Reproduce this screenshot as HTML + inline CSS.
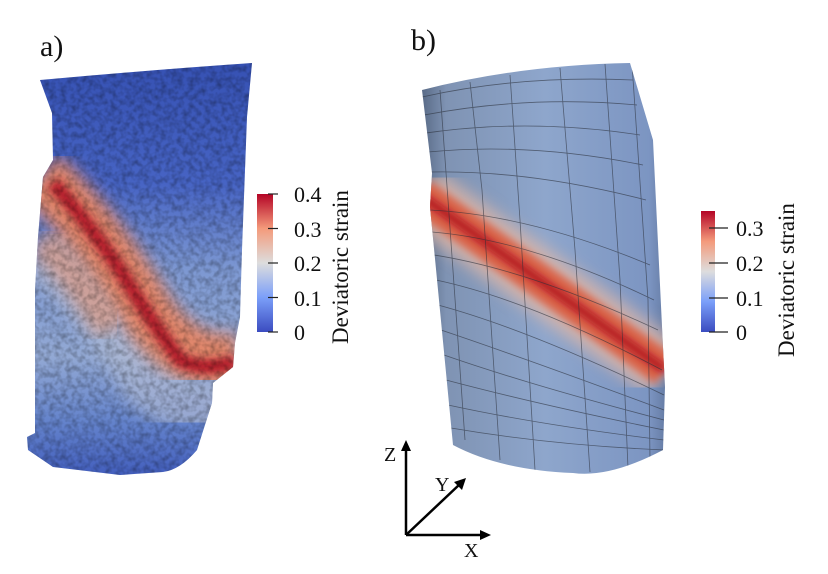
<!DOCTYPE html>
<html><head><meta charset="utf-8"><style>
html,body{margin:0;padding:0;background:#fff;}
svg{display:block;}
text{font-family:"Liberation Serif",serif;fill:#111;}
</style></head><body>
<svg width="828" height="574" viewBox="0 0 828 574" xmlns="http://www.w3.org/2000/svg">
<defs>
<linearGradient id="cm" x1="0" y1="1" x2="0" y2="0">
<stop offset="0" stop-color="#3b4cc0"/><stop offset="0.25" stop-color="#7b9ff9"/>
<stop offset="0.5" stop-color="#dddddd"/><stop offset="0.75" stop-color="#f49a7b"/>
<stop offset="1" stop-color="#b40426"/></linearGradient>
<linearGradient id="leftbg" x1="0" y1="0" x2="0" y2="1">
<stop offset="0" stop-color="#3550b2"/><stop offset="0.3" stop-color="#4764c4"/>
<stop offset="0.5" stop-color="#7d98d2"/><stop offset="0.7" stop-color="#93a9d4"/>
<stop offset="0.85" stop-color="#6584cc"/>
<stop offset="1" stop-color="#3d58bb"/></linearGradient>
<linearGradient id="cyl" x1="0" y1="0" x2="1" y2="0">
<stop offset="0" stop-color="#4e5f7a"/><stop offset="0.12" stop-color="#7f93b3"/>
<stop offset="0.5" stop-color="#8ea6cc"/><stop offset="0.9" stop-color="#7c95c2"/>
<stop offset="1" stop-color="#5a6f95"/></linearGradient>
<filter id="b8"><feGaussianBlur stdDeviation="8"/></filter>
<filter id="b4"><feGaussianBlur stdDeviation="4"/></filter>
<filter id="grain" x="0" y="0" width="100%" height="100%">
<feTurbulence type="fractalNoise" baseFrequency="0.18" numOctaves="2" seed="3"/>
<feColorMatrix values="0 0 0 0 0  0 0 0 0 0  0 0 0 0 0  0 0 0 1.4 -0.5"/>
</filter>
<clipPath id="lc"><path d="M40,80 Q150,70 252,63 L247,117 L242,250 L240,317 L235,343 L233,367 L213,383 L212,403 L197,450 Q180,470 163,472 L120,475 L53,467 L28,450 L27,437 L35,433 L35,290 L38,237 L43,177 L53,160 L52,113 Z"/></clipPath>
<clipPath id="rc"><path d="M422,90 Q520,65 630,63 L653,140 L663,347 L665,387 L663,450 Q610,478 573,473 Q500,470 453,445 L430,207 L432,173 Z"/></clipPath>
</defs>

<text x="40" y="56" font-size="30">a)</text>
<text x="411" y="50" font-size="30">b)</text>

<g clip-path="url(#lc)">
<rect x="20" y="55" width="240" height="430" fill="url(#leftbg)"/>
<path d="M40,250 Q110,300 150,380 Q190,420 240,400" stroke="#b7bfd4" stroke-width="60" fill="none" filter="url(#b8)" opacity="0.6"/>
<path d="M40,175 Q90,220 140,300 Q180,370 240,360" stroke="#e0866a" stroke-width="55" fill="none" filter="url(#b8)"/>
<path d="M40,240 Q80,280 110,330" stroke="#e09a80" stroke-width="30" fill="none" filter="url(#b8)" opacity="0.7"/>
<path d="M53,183 Q90,225 120,270 Q150,320 180,360 Q205,372 235,362" stroke="#b41a2a" stroke-width="14" fill="none" filter="url(#b4)"/>
<rect x="20" y="55" width="240" height="430" filter="url(#grain)" opacity="0.4"/>
</g>

<rect x="257" y="194" width="16" height="138" fill="url(#cm)"/>
<g stroke="#222" stroke-width="1.2">
<line x1="268" y1="194" x2="278" y2="194"/><line x1="268" y1="228.5" x2="278" y2="228.5"/>
<line x1="268" y1="263" x2="278" y2="263"/><line x1="268" y1="297.5" x2="278" y2="297.5"/>
<line x1="268" y1="332" x2="278" y2="332"/></g>
<g font-size="22"><text x="294" y="202">0.4</text><text x="294" y="237">0.3</text>
<text x="294" y="271">0.2</text><text x="294" y="306">0.1</text><text x="294" y="340">0</text></g>
<text font-size="23" transform="translate(348,344) rotate(-90)">Deviatoric strain</text>

<g clip-path="url(#rc)">
<rect x="415" y="55" width="260" height="430" fill="url(#cyl)"/>
<path d="M420,195 L665,370" stroke="#e2b8a6" stroke-width="60" fill="none" filter="url(#b8)" opacity="0.8"/>
<path d="M420,195 L665,370" stroke="#d9644a" stroke-width="34" fill="none" filter="url(#b4)"/>
<path d="M420,195 L665,370" stroke="#b0101e" stroke-width="8" fill="none" filter="url(#b4)"/>
<g stroke="#2a2f3a" stroke-width="0.8" fill="none" opacity="0.6">
<path d="M422,97 Q520,75 633,80"/><path d="M424,115 Q530,95 637,105"/>
<path d="M426,133 Q530,118 640,135"/><path d="M428,152 Q530,142 643,165"/>
<path d="M430,172 Q530,170 646,200"/><path d="M430,210 Q530,215 650,265"/>
<path d="M432,232 Q530,240 654,300"/><path d="M434,255 Q530,270 658,330"/>
<path d="M436,280 Q530,300 662,370"/><path d="M438,305 Q530,330 664,395"/>
<path d="M441,330 Q530,360 664,410"/><path d="M444,355 Q530,385 664,420"/>
<path d="M446,380 Q540,405 664,430"/><path d="M448,405 Q540,425 664,440"/>
<path d="M451,428 Q550,445 664,450"/>
<path d="M440,90 L448,200 L465,440"/><path d="M470,82 L482,190 L500,460"/>
<path d="M510,75 L520,220 L535,470"/><path d="M560,68 L575,250 L590,472"/>
<path d="M605,64 L620,280 L628,468"/><path d="M632,64 L648,300 L650,460"/>
</g>
</g>

<rect x="701" y="211" width="14" height="121" fill="url(#cm)"/>
<g stroke="#222" stroke-width="1.2">
<line x1="709" y1="228" x2="728" y2="228"/><line x1="709" y1="263" x2="728" y2="263"/>
<line x1="709" y1="298" x2="728" y2="298"/><line x1="709" y1="332" x2="728" y2="332"/></g>
<g font-size="22"><text x="736" y="236">0.3</text><text x="736" y="271">0.2</text>
<text x="736" y="306">0.1</text><text x="736" y="340">0</text></g>
<text font-size="23" transform="translate(794,357) rotate(-90)">Deviatoric strain</text>

<g stroke="#000" stroke-width="2.5" fill="none">
<line x1="406" y1="535" x2="406" y2="448"/>
<line x1="406" y1="535" x2="482" y2="535"/>
<line x1="406" y1="535" x2="460" y2="484"/></g>
<polygon points="406,440 401,451 411,451" fill="#000"/>
<polygon points="491,535 480,530 480,540" fill="#000"/>
<polygon points="466,478 454,482 462,490" fill="#000"/>
<g font-size="20"><text x="384" y="461">Z</text><text x="435" y="491">Y</text><text x="464" y="557">X</text></g>
</svg>
</body></html>
